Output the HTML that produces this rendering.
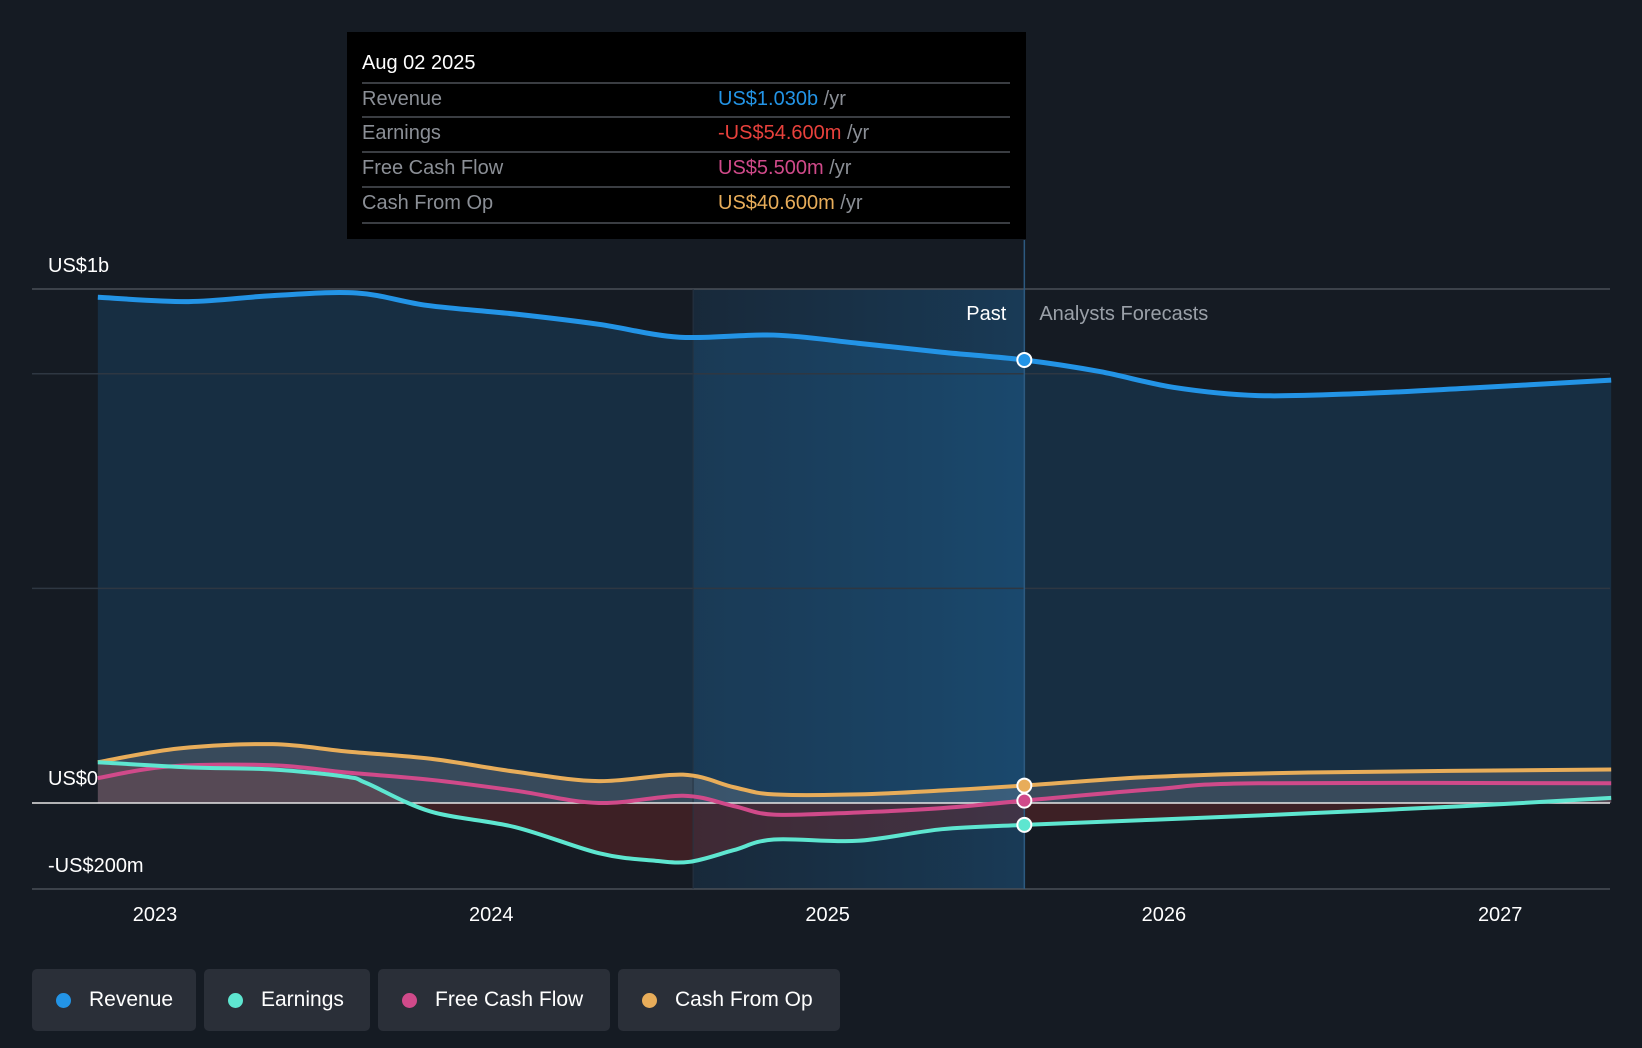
<!DOCTYPE html>
<html><head><meta charset="utf-8"><style>
body{margin:0;background:#151b23;width:1642px;height:1048px;overflow:hidden;font-family:"Liberation Sans",sans-serif}
svg{position:absolute;left:0;top:0}
.lg{position:absolute;top:969px;height:62px;background:#2a2f38;border-radius:5px;color:#fff;font-size:21px;display:flex;align-items:center;box-sizing:border-box;padding-left:24px}
.lg i{width:15px;height:15px;border-radius:50%;display:inline-block;margin-right:18px}
</style></head><body>
<svg id="c" width="1642" height="1048"></svg>
<div class="lg" style="left:32px;width:164px"><i style="background:#2394e6"></i>Revenue</div>
<div class="lg" style="left:204px;width:166px"><i style="background:#5ee6d0"></i>Earnings</div>
<div class="lg" style="left:378px;width:232px"><i style="background:#d04a8a"></i>Free Cash Flow</div>
<div class="lg" style="left:618px;width:222px"><i style="background:#e8ad5a"></i>Cash From Op</div>
<script>
const revX=[2022.83,2023.10,2023.35,2023.60,2023.81,2024.07,2024.32,2024.56,2024.84,2025.09,2025.34,2025.585,2025.81,2026.03,2026.28,2026.59,2026.90,2027.33];
const revY=[1.178,1.168,1.182,1.188,1.159,1.139,1.115,1.085,1.09,1.071,1.05,1.032,1.005,0.968,0.949,0.954,0.966,0.985];
const earnX=[2022.83,2023.10,2023.35,2023.57,2023.63,2023.82,2024.07,2024.32,2024.48,2024.59,2024.72,2024.84,2025.09,2025.34,2025.585,2025.97,2026.43,2026.90,2027.33];
const earnY=[0.095,0.083,0.078,0.061,0.046,-0.02,-0.056,-0.117,-0.134,-0.137,-0.110,-0.085,-0.088,-0.061,-0.051,-0.039,-0.024,-0.007,0.012];
const fcfX=[2022.83,2023.04,2023.35,2023.57,2023.82,2024.07,2024.32,2024.57,2024.72,2024.84,2025.09,2025.34,2025.585,2025.97,2026.28,2027.33];
const fcfY=[0.058,0.085,0.088,0.071,0.054,0.029,0,0.017,-0.007,-0.027,-0.022,-0.012,0.0055,0.032,0.046,0.046];
const cfoX=[2022.83,2023.07,2023.35,2023.57,2023.82,2024.07,2024.32,2024.57,2024.72,2024.84,2025.09,2025.34,2025.585,2025.97,2026.43,2027.33];
const cfoY=[0.095,0.127,0.137,0.12,0.103,0.073,0.051,0.066,0.037,0.02,0.02,0.029,0.0406,0.061,0.071,0.078];
const yTicks=[{v:1.2,t:"US$1b"},{v:0,t:"US$0"},{v:-0.2,t:"-US$200m"}];
const years=[2023,2024,2025,2026,2027];
const X=y=>155+(y-2023)*336.3, Y=v=>803-v*429.3;
const s=document.getElementById('c'),NS='http://www.w3.org/2000/svg';
function el(t,a,txt){const e=document.createElementNS(NS,t);for(const k in a)e.setAttribute(k,a[k]);if(txt!=null)e.textContent=txt;s.appendChild(e);return e;}
function path(xs,ys){const p=xs.map((x,i)=>[X(x),Y(ys[i])]);let d='M'+p[0];for(let i=0;i<p.length-1;i++){const a=p[i-1]||p[i],b=p[i],c=p[i+1],e=p[i+2]||c;d+='C'+(b[0]+(c[0]-a[0])/6)+','+(b[1]+(c[1]-a[1])/6)+' '+(c[0]-(e[0]-b[0])/6)+','+(c[1]-(e[1]-b[1])/6)+' '+c;}return d;}
const defs=el('defs',{});defs.innerHTML='<linearGradient id="pg" x1="0" x2="1"><stop offset="0" stop-color="#1d4a70" stop-opacity="0.3"/><stop offset="1" stop-color="#1d5a8a" stop-opacity="0.5"/></linearGradient>';
const xl=X(2025.585),x0=X(revX[0]),xe=X(revX[revX.length-1]);
let r=el('rect',{x:X(2024.6),y:289,width:xl-X(2024.6),height:600,fill:'url(#pg)'});

let a=el('path',{d:path(revX,revY)+`L${xe},${Y(0)}L${x0},${Y(0)}Z`,fill:'#2394e6','fill-opacity':0.16});

a=el('path',{d:path(earnX,earnY)+`L${X(earnX[earnX.length-1])},${Y(0)}L${x0},${Y(0)}Z`,fill:'#8a2a2a','fill-opacity':0.35});

a=el('path',{d:path(cfoX,cfoY)+`L${xe},${Y(0)}L${x0},${Y(0)}Z`,fill:'#9aa0a8','fill-opacity':0.25});

[[289,'#4a5058'],[Y(1),'#2e3742'],[Y(0.5),'#2e3742'],[889,'#4a5058']].forEach(g=>{const l=el('line',{x1:32,x2:1610,y1:g[0],y2:g[0],stroke:g[1],'stroke-width':1.5});});
let ln=el('line',{x1:xl,x2:xl,y1:240,y2:889,stroke:'#2d5a80','stroke-width':1.5});
ln=el('line',{x1:X(2024.6),x2:X(2024.6),y1:289,y2:889,stroke:'#263240','stroke-width':1});
ln=el('line',{x1:32,x2:1610,y1:Y(0),y2:Y(0),stroke:'#e6e6e6','stroke-width':1.5});
const series=[['revenue',revX,revY,'#2394e6',5],['cash-from-op',cfoX,cfoY,'#e8ad5a',4],['free-cash-flow',fcfX,fcfY,'#d04a8a',4],['earnings',earnX,earnY,'#5ee6d0',4]];
series.forEach(q=>{const p=el('path',{d:path(q[1],q[2]),fill:'none',stroke:q[3],'stroke-width':q[4]});
const i=q[1].indexOf(2025.585);const c=el('circle',{cx:xl,cy:Y(q[2][i]),r:7,fill:q[3],stroke:'#fff','stroke-width':2});});
yTicks.forEach(t=>{const y=t.v==1.2?272:t.v==0?785:872;const e=el('text',{x:48,y:y,fill:'#fff','font-size':20},t.t);});
years.forEach(v=>{const e=el('text',{x:X(v),y:921,fill:'#fff','font-size':20,'text-anchor':'middle'},v);});
let t=el('text',{x:xl-18,y:320,fill:'#fff','font-size':20,'text-anchor':'end'},'Past');
t=el('text',{x:xl+15,y:320,fill:'#9aa0a8','font-size':20},'Analysts Forecasts');
const tg=el('rect',{x:347,y:32,width:679,height:207,fill:'#000'});
t=el('text',{x:362,y:69,fill:'#fff','font-size':20},'Aug 02 2025');
const rows=[['Revenue','US$1.030b','#2394e6'],['Earnings','-US$54.600m','#e8413c'],['Free Cash Flow','US$5.500m','#d04a8a'],['Cash From Op','US$40.600m','#e8ad5a']];
const ry=[83,117,152,187,223];
ry.forEach(y=>{const l=el('line',{x1:362,x2:1010,y1:y,y2:y,stroke:'#3a3d42','stroke-width':2});});
rows.forEach((rw,i)=>{const y=ry[i]+22;let e=el('text',{x:362,y:y,fill:'#8b8f96','font-size':20},rw[0]);
e=el('text',{x:718,y:y,'font-size':20,fill:rw[2]});e.innerHTML=rw[1]+'<tspan fill="#8b8f96"> /yr</tspan>';});
</script></body></html>
